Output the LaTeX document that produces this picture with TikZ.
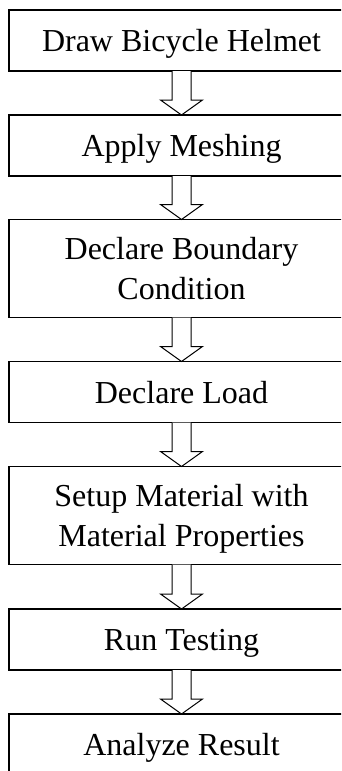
\documentclass[tikz,border=0pt]{standalone}
\usepackage{fontspec}
\setmainfont{Liberation Serif}
\usetikzlibrary{calc}
\tikzset{
  stepbox/.style={draw, line width=1.6pt, minimum width=345pt, minimum height=61pt,
    align=center, text depth=0pt, inner sep=0pt, outer sep=0pt,
    font=\fontsize{32}{40}\selectfont},
  tallbox/.style={stepbox, minimum height=98pt},
  arrowline/.style={line width=1pt, fill=white}
}
\def\hollowarrow(#1)(#2){\draw[arrowline] ($(#1.south)+(-9.5,0)$) -- ($(#2.north)+(-9.5,15)$) -- ($(#2.north)+(-21,15)$) -- (#2.north) -- ($(#2.north)+(21,15)$) -- ($(#2.north)+(9.5,15)$) -- ($(#1.south)+(9.5,0)$);}

\begin{document}
\begin{tikzpicture}[x=1pt,y=1pt]
	%%%%% START %%%%%
	\useasboundingbox (0,0) rectangle (341,-771);
	\fill[white] (0,0) rectangle (341,-771);
	\clip (0,0) rectangle (341,-771);
	
	\node[stepbox] (helmet) at (181.5,-40.5) {Draw Bicycle Helmet};
	\node[stepbox] (meshing) at (181.5,-145.5) {Apply Meshing};
	\node[tallbox] (boundary) at (181.5,-268.5) {Declare Boundary\\Condition};
	\node[stepbox] (load) at (181.5,-392) {Declare Load};
	\node[tallbox] (material) at (181.5,-515.5) {Setup Material with\\Material Properties};
	\node[stepbox] (testing) at (181.5,-639.5) {Run Testing};
	\node[stepbox] (result) at (181.5,-744.5) {Analyze Result};
	
	\hollowarrow(helmet)(meshing)
	\hollowarrow(meshing)(boundary)
	\hollowarrow(boundary)(load)
	\hollowarrow(load)(material)
	\hollowarrow(material)(testing)
	\hollowarrow(testing)(result)
	
	%%%%% END %%%%%
\end{tikzpicture}
\end{document}
